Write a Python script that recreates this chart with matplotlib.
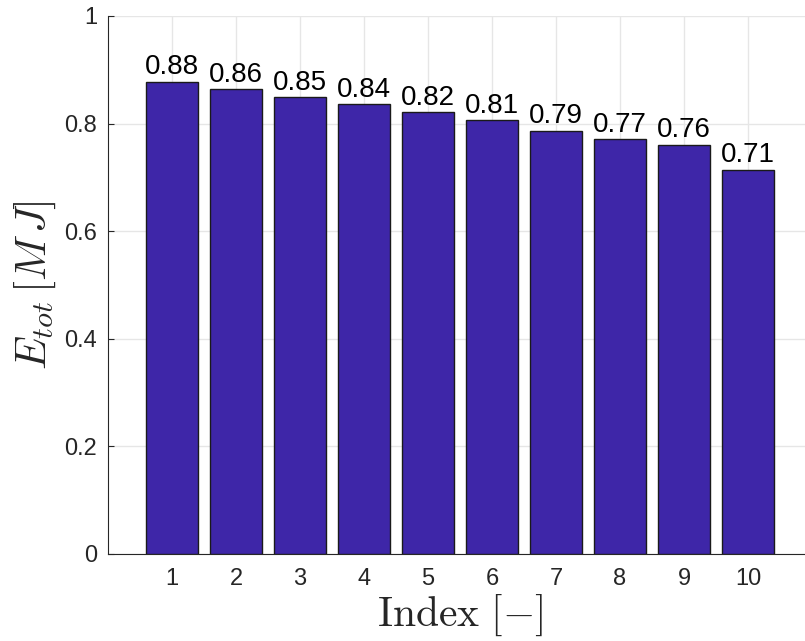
import matplotlib.pyplot as plt
import numpy as np

plt.rcParams['font.family'] = ['Liberation Sans', 'DejaVu Sans']
plt.rcParams['mathtext.fontset'] = 'cm'

# energy per index
idx = [1, 2, 3, 4, 5, 6, 7, 8, 9, 10]
etot = [0.878, 0.864, 0.849, 0.836, 0.821, 0.806, 0.787, 0.771, 0.760, 0.714]
labels = ['0.88', '0.86', '0.85', '0.84', '0.82', '0.81', '0.79', '0.77', '0.76', '0.71']

yticks = [0, 0.2, 0.4, 0.6, 0.8, 1]
yticklabels = ['0', '0.2', '0.4', '0.6', '0.8', '1']

fig = plt.figure(figsize=(8.05, 6.41), dpi=100)
ax = fig.add_axes([108/805, 1 - 553.7/641, 704/805, 537.7/641])

bars = ax.bar(idx, etot, width=0.8, color='#3E26A8', edgecolor='#1a1a1a', linewidth=1, zorder=3)
for b, lab in zip(bars, labels):
    ax.text(b.get_x() + b.get_width()/2, b.get_height() + 0.003, lab,
            ha='center', va='bottom', fontsize=20, color='black', zorder=4)

ax.set_xlim(0, 11)
ax.set_ylim(0, 1)
ax.set_xticks(idx)
ax.set_yticks(yticks)
ax.set_yticklabels(yticklabels)
ax.tick_params(direction='in', length=4, labelsize=17, colors='#262626', width=0.8)
ax.tick_params(axis='x', pad=10)
ax.tick_params(axis='y', pad=8)

ax.grid(True, color='#e6e6e6', linewidth=1, zorder=0)
ax.spines['top'].set_visible(False)
ax.spines['right'].set_visible(False)
ax.spines['left'].set_color('#262626')
ax.spines['bottom'].set_color('#262626')

ax.set_xlabel(r'$\mathrm{Index}\ [-]$', fontsize=30, color='#262626', labelpad=2)
ax.set_ylabel(r'$E_{tot}\,[M\,J]$', fontsize=31, color='#262626', labelpad=4)

fig.savefig('out.png', dpi=100)
